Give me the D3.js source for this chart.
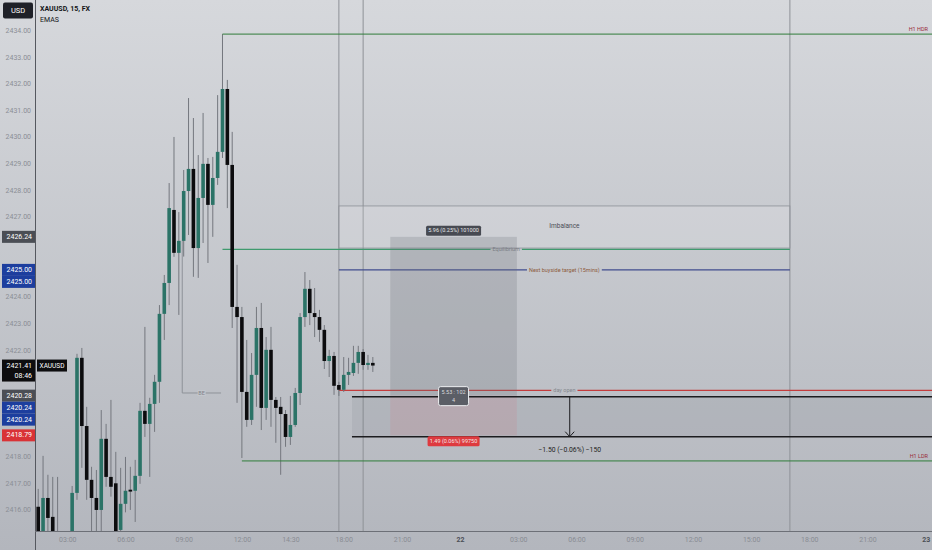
<!DOCTYPE html>
<html>
<head>
<meta charset="utf-8">
<script src="https://cdn.jsdelivr.net/npm/d3@7"></script>
<style>
html, body { margin: 0; padding: 0; background: #c9ccd2; }
svg { display: block; font-family: Roboto, "Noto Sans", sans-serif; }
</style>
</head>
<body>
<svg id="chart" width="932" height="550"></svg>
<script>
"use strict";

// 15 min XAUUSD candles, bar 0 = 03:00 on the 21st
var firstBar = -6;
var opens = [
  2416.11, 2415.00, 2416.44, 2415.73, 2414.95, 2414.50, 2414.30, 2414.60, 2416.63, 2421.70,
  2419.14, 2417.12, 2416.44, 2415.99, 2418.66, 2417.23, 2416.99, 2415.24, 2416.22, 2416.75,
  2416.71, 2417.27, 2419.71, 2419.22, 2419.97, 2420.80, 2423.35, 2424.51, 2427.25, 2425.64,
  2426.09, 2427.96, 2428.79, 2425.82, 2427.70, 2428.98, 2427.44, 2428.45, 2429.43, 2431.79,
  2428.94, 2423.61, 2423.23, 2420.42, 2419.37, 2421.06, 2422.82, 2419.82, 2422.00, 2420.12,
  2419.86, 2419.59, 2418.73, 2419.18, 2420.38, 2423.23, 2424.29, 2423.38, 2423.23, 2422.75,
  2421.58, 2421.77, 2420.68, 2420.50, 2421.06, 2421.13, 2421.51, 2421.92, 2421.43, 2421.51
];
var highs = [
  2416.78, 2418.02, 2417.31, 2417.23, 2417.23, 2414.90, 2415.00, 2416.89, 2421.85, 2422.07,
  2419.86, 2417.61, 2417.49, 2419.74, 2419.22, 2420.12, 2418.17, 2417.57, 2417.98, 2417.61,
  2417.87, 2420.01, 2422.86, 2420.20, 2421.06, 2423.68, 2424.81, 2428.26, 2429.99, 2427.17,
  2428.75, 2431.45, 2430.70, 2429.31, 2430.89, 2429.20, 2429.24, 2431.56, 2433.85, 2432.13,
  2430.18, 2425.19, 2423.61, 2422.37, 2421.88, 2423.61, 2423.76, 2422.48, 2422.86, 2420.23,
  2420.23, 2419.74, 2420.27, 2420.57, 2423.38, 2424.92, 2424.62, 2424.32, 2423.50, 2422.93,
  2422.00, 2421.92, 2420.80, 2421.73, 2421.70, 2422.15, 2422.15, 2422.03, 2421.81, 2421.73
];
var lows = [
  2414.70, 2414.80, 2414.90, 2414.60, 2414.20, 2414.00, 2413.90, 2414.50, 2416.37, 2417.57,
  2416.37, 2414.90, 2414.80, 2415.10, 2416.86, 2416.49, 2414.90, 2415.00, 2415.90, 2415.99,
  2415.54, 2416.97, 2418.73, 2417.23, 2418.92, 2420.01, 2422.37, 2423.68, 2425.49, 2423.31,
  2425.50, 2426.31, 2424.74, 2424.70, 2426.01, 2425.26, 2426.24, 2428.19, 2429.20, 2427.32,
  2422.82, 2420.01, 2417.94, 2419.11, 2419.18, 2419.86, 2418.99, 2419.37, 2419.11, 2418.51,
  2417.31, 2418.36, 2418.43, 2419.11, 2419.93, 2422.86, 2422.93, 2422.48, 2422.30, 2421.28,
  2420.98, 2420.31, 2420.27, 2420.42, 2420.68, 2421.02, 2421.10, 2421.25, 2421.25, 2421.17
];
var closes = [
  2415.00, 2416.44, 2415.69, 2414.95, 2414.50, 2414.30, 2414.60, 2416.63, 2421.70, 2419.14,
  2417.12, 2416.44, 2415.99, 2418.66, 2417.23, 2416.86, 2415.10, 2416.22, 2416.71, 2416.68,
  2417.27, 2419.71, 2419.22, 2419.97, 2420.80, 2423.35, 2424.51, 2427.32, 2425.64, 2426.09,
  2427.96, 2428.79, 2425.82, 2427.70, 2428.98, 2427.44, 2428.45, 2429.43, 2431.79, 2428.94,
  2423.61, 2423.23, 2420.42, 2419.37, 2421.06, 2422.82, 2419.82, 2422.00, 2420.12, 2419.82,
  2419.59, 2418.73, 2419.18, 2420.38, 2423.23, 2424.29, 2423.38, 2423.23, 2422.75, 2421.58,
  2421.77, 2420.65, 2420.50, 2421.06, 2421.17, 2421.51, 2421.92, 2421.43, 2421.51, 2421.41
];

var priceTicks = [2416, 2417, 2418, 2419, 2420, 2421, 2422, 2423, 2424, 2425,
                  2426, 2427, 2428, 2429, 2430, 2431, 2432, 2433, 2434];
var timeLabels = ["03:00", "06:00", "09:00", "12:00", "14:30", "18:00", "21:00", "22",
                  "03:00", "06:00", "09:00", "12:00", "15:00", "18:00", "21:00", "23"];
var timeBars = [0, 12, 24, 36, 46, 57, 69, 81, 93, 105, 117, 129, 141, 153, 165, 177];

// drawn levels
var levelNames = ["H1 HDR", "Equilibrium", "Next buyside target (15mins)", "day open", "H1 LDR"];
var levelPrices = [2433.85, 2425.77, 2425.00, 2420.48, 2417.83];
var levelFrom = [32, 32, 56, 56, 36];
var levelTo = [null, 149, 149, 149, null];
var levelExtend = [true, false, false, true, true];

var markerBars = [56, 61, 149];

var imbalance = { name: "Imbalance", top: 2427.40, bottom: 2425.82, from: 56, to: 149 };
var position = { target: 2426.24, entry: 2420.28, stop: 2418.79, from: 66.6, to: 92.7,
  topText: "5.96 (0.25%) 101000", midText: ["5.53 : 102", "4"], stopText: "1.49 (0.06%) 99750" };
var range = { from: 2420.24, to: 2418.74, start: 58.7, arrowBar: 103.6, text: "\u22121.50 (\u22120.06%) \u2212150" };
var breakeven = { top: 2426.10, price: 2420.38, from: 23.7, to: 31.7, text: "BE" };

var badgeText = ["2426.24", "2425.00", "2425.00", "2421.41", "2420.28", "2420.24", "2420.24", "2418.79"];
var badgePrice = [2426.24, 2425.00, 2425.00, 2421.41, 2420.28, 2420.24, 2420.24, 2418.79];
var badgeKind = ["position", "line", "line", "last", "position", "line", "line", "stop"];

var W = 932, H = 550, plotLeft = 35, plotBottom = 531;
var svg = d3.select("#chart");

var defs = svg.append("defs");
var grad = defs.append("linearGradient").attr("id", "bg")
  .attr("x1", 0).attr("y1", 0).attr("x2", 0).attr("y2", 1);
grad.append("stop").attr("offset", "0%").attr("stop-color", "#d6d8dc");
grad.append("stop").attr("offset", "100%").attr("stop-color", "#b3b6bd");
defs.append("clipPath").attr("id", "plot").append("rect")
  .attr("x", plotLeft).attr("y", 0).attr("width", W - plotLeft).attr("height", plotBottom);

svg.append("rect").attr("width", W).attr("height", H).attr("fill", "url(#bg)");

var x = d3.scaleLinear().domain([-6.66, 178.3]).range([plotLeft, W]);
var y = d3.scaleLinear().domain([2415.2, 2435.13]).range([plotBottom, 0]);

var plot = svg.append("g").attr("clip-path", "url(#plot)");

// vertical session markers
plot.selectAll("line.marker")
  .data(markerBars)
  .enter()
  .append("line")
  .attr("class", "marker")
  .attr("x1", function(b) { return x(b); })
  .attr("x2", function(b) { return x(b); })
  .attr("y1", 0).attr("y2", plotBottom)
  .attr("stroke", "#8e9197").attr("stroke-width", 1);

// imbalance box
plot.append("rect")
  .attr("x", x(imbalance.from)).attr("y", y(imbalance.top))
  .attr("width", x(imbalance.to) - x(imbalance.from))
  .attr("height", y(imbalance.bottom) - y(imbalance.top))
  .attr("fill", "rgba(255,255,255,0.13)")
  .attr("stroke", "#8d9097").attr("stroke-width", 0.8);
plot.append("text")
  .attr("x", x((imbalance.from + imbalance.to) / 2))
  .attr("y", y((imbalance.top + imbalance.bottom) / 2) - 1)
  .attr("text-anchor", "middle").attr("dominant-baseline", "middle")
  .attr("font-size", "6.5px").attr("fill", "#4a4d55")
  .text(imbalance.name);

// position tool zones
plot.append("rect")
  .attr("x", x(position.from)).attr("y", y(position.target))
  .attr("width", x(position.to) - x(position.from))
  .attr("height", y(position.entry) - y(position.target))
  .attr("fill", "rgba(110,113,121,0.24)");
plot.append("rect")
  .attr("x", x(position.from)).attr("y", y(position.entry))
  .attr("width", x(position.to) - x(position.from))
  .attr("height", y(position.stop) - y(position.entry))
  .attr("fill", "rgba(235,90,105,0.13)");

// price range band
plot.append("rect")
  .attr("x", x(range.start)).attr("y", y(range.from))
  .attr("width", W - x(range.start))
  .attr("height", y(range.to) - y(range.from))
  .attr("fill", "rgba(90,94,104,0.10)");

// breakeven bracket
plot.append("path")
  .attr("d", "M" + x(breakeven.from) + "," + y(breakeven.top) +
    "L" + x(breakeven.from) + "," + y(breakeven.price) +
    "L" + x(breakeven.to) + "," + y(breakeven.price))
  .attr("fill", "none").attr("stroke", "#8e9299").attr("stroke-width", 1);
var beMid = x((breakeven.from + breakeven.to) / 2);
plot.append("rect").attr("x", beMid - 4).attr("y", y(breakeven.price) - 3)
  .attr("width", 8).attr("height", 6).attr("fill", "#c3c6cc");
plot.append("text")
  .attr("x", beMid).attr("y", y(breakeven.price) + 0.5)
  .attr("text-anchor", "middle").attr("dominant-baseline", "middle")
  .attr("font-size", "5.5px").attr("fill", "#80838a")
  .text(breakeven.text);

// candles
var candles = opens.map(function(o, i) {
  return { bar: firstBar + i, o: o, h: highs[i], l: lows[i], c: closes[i] };
});
var bodyW = 3.6;
var cg = plot.append("g");
cg.selectAll("line.wick")
  .data(candles)
  .enter()
  .append("line")
  .attr("class", "wick")
  .attr("x1", function(d) { return x(d.bar); })
  .attr("x2", function(d) { return x(d.bar); })
  .attr("y1", function(d) { return y(d.h); })
  .attr("y2", function(d) { return y(d.l); })
  .attr("stroke", "#74777e").attr("stroke-width", 1);
cg.selectAll("rect.body")
  .data(candles)
  .enter()
  .append("rect")
  .attr("class", "body")
  .attr("x", function(d) { return x(d.bar) - bodyW / 2; })
  .attr("width", bodyW)
  .attr("y", function(d) { return y(Math.max(d.o, d.c)); })
  .attr("height", function(d) { return Math.max(1, Math.abs(y(d.o) - y(d.c))); })
  .attr("fill", function(d) { return d.c >= d.o ? "#2b7367" : "#0c0c0e"; });

// levels
function levelStyle(name) {
  if (name == "H1 HDR" || name == "H1 LDR") {
    return { stroke: "#2f7d3a", text: "#9a2b3b", place: "right" };
  } else if (name == "Equilibrium") {
    return { stroke: "#3f9a6e", text: "#7b7e85", place: "middle" };
  } else if (name == "day open") {
    return { stroke: "#c43c3c", text: "#85888f", place: "middle" };
  } else {
    return { stroke: "#414c8e", text: "#8d5b3c", place: "middle" };
  }
}

levelNames.forEach(function(name, i) {
  var st = levelStyle(name);
  var py = y(levelPrices[i]);
  var x1 = x(levelFrom[i]);
  var x2 = levelExtend[i] ? W : x(levelTo[i]);
  if (st.place == "right") {
    plot.append("line").attr("x1", x1).attr("x2", x2).attr("y1", py).attr("y2", py)
      .attr("stroke", st.stroke).attr("stroke-width", 1);
    plot.append("text").attr("x", W - 4).attr("y", py - 3)
      .attr("text-anchor", "end").attr("font-size", "5.5px").attr("fill", st.text)
      .text(name);
  } else {
    var mid = x((levelFrom[i] + levelTo[i]) / 2);
    var t = plot.append("text").attr("x", mid).attr("y", py + 0.3)
      .attr("text-anchor", "middle").attr("dominant-baseline", "middle")
      .attr("font-size", "5.5px").attr("fill", st.text)
      .text(name);
    var half = t.node().getComputedTextLength() / 2 + 2;
    plot.insert("line", "text").attr("x1", x1).attr("x2", mid - half).attr("y1", py).attr("y2", py)
      .attr("stroke", st.stroke).attr("stroke-width", 1.2);
    plot.insert("line", "text").attr("x1", mid + half).attr("x2", x2).attr("y1", py).attr("y2", py)
      .attr("stroke", st.stroke).attr("stroke-width", 1.2);
  }
});

// price range lines and arrow
[range.from, range.to].forEach(function(p) {
  plot.append("line").attr("x1", x(range.start)).attr("x2", W)
    .attr("y1", y(p)).attr("y2", y(p))
    .attr("stroke", "#1c1c1f").attr("stroke-width", 1.5);
});
var ax = x(range.arrowBar);
plot.append("line").attr("x1", ax).attr("x2", ax)
  .attr("y1", y(range.from)).attr("y2", y(range.to))
  .attr("stroke", "#1c1c1f").attr("stroke-width", 1);
plot.append("path")
  .attr("d", "M" + (ax - 4.5) + "," + (y(range.to) - 5) + "L" + ax + "," + y(range.to) +
    "L" + (ax + 4.5) + "," + (y(range.to) - 5))
  .attr("fill", "none").attr("stroke", "#1c1c1f").attr("stroke-width", 1);
plot.append("text").attr("x", ax).attr("y", y(range.to) + 15)
  .attr("text-anchor", "middle").attr("font-size", "6.8px").attr("fill", "#1e1e22")
  .text(range.text);

// position tool labels
var pMid = x((position.from + position.to) / 2);
var topBox = plot.append("g");
topBox.append("rect").attr("x", pMid - 27.5).attr("y", y(position.target) - 11)
  .attr("width", 55).attr("height", 10).attr("rx", 1.5).attr("fill", "#474a52");
topBox.append("text").attr("x", pMid).attr("y", y(position.target) - 6)
  .attr("text-anchor", "middle").attr("dominant-baseline", "middle")
  .attr("font-size", "5.5px").attr("fill", "#e6e7ea").text(position.topText);

var midBox = plot.append("g");
midBox.append("rect").attr("x", pMid - 15).attr("y", y(position.entry) - 9)
  .attr("width", 30).attr("height", 19).attr("rx", 2)
  .attr("fill", "#5b5e66").attr("stroke", "#eceef0").attr("stroke-width", 1);
position.midText.forEach(function(s, i) {
  midBox.append("text").attr("x", pMid).attr("y", y(position.entry) - 3.5 + i * 8)
    .attr("text-anchor", "middle").attr("dominant-baseline", "middle")
    .attr("font-size", "5.5px").attr("fill", "#d8d9dc").text(s);
});

var stopBox = plot.append("g");
stopBox.append("rect").attr("x", pMid - 26).attr("y", y(position.stop) + 1)
  .attr("width", 52).attr("height", 10).attr("rx", 1.5).attr("fill", "#de3a3f");
stopBox.append("text").attr("x", pMid).attr("y", y(position.stop) + 6)
  .attr("text-anchor", "middle").attr("dominant-baseline", "middle")
  .attr("font-size", "5.5px").attr("fill", "#f4e6e6").text(position.stopText);

// axes
svg.append("line").attr("x1", plotLeft + 0.5).attr("x2", plotLeft + 0.5)
  .attr("y1", 0).attr("y2", H).attr("stroke", "#55585f").attr("stroke-width", 1);
svg.append("line").attr("x1", plotLeft).attr("x2", W)
  .attr("y1", plotBottom + 0.5).attr("y2", plotBottom + 0.5)
  .attr("stroke", "#6d7077").attr("stroke-width", 1);

// price badges on the axis, pushed down when they overlap
function badgeColor(kind) {
  if (kind == "position") return "#4b4e55";
  else if (kind == "line") return "#1d3e9e";
  else if (kind == "last") return "#0d0d0f";
  else return "#d93236";
}
var badges = badgeText.map(function(t, i) {
  return { text: t, kind: badgeKind[i], cy: y(badgePrice[i]), h: badgeKind[i] == "last" ? 22 : 12 };
});
var prevBottom = -Infinity;
badges.forEach(function(b) {
  b.top = Math.max(b.cy - 6, prevBottom);
  prevBottom = b.top + b.h;
});

// tick labels hidden behind a badge are left out
var visibleTicks = priceTicks.filter(function(p) {
  var ty = y(p);
  return !badges.some(function(b) { return ty > b.top - 4 && ty < b.top + b.h + 4; });
});

var yAxis = svg.append("g").attr("transform", "translate(31,0)")
  .call(d3.axisLeft(y).tickValues(visibleTicks).tickFormat(d3.format(".2f")).tickSize(0).tickPadding(0));
yAxis.select(".domain").remove();
yAxis.selectAll("text").attr("fill", "#8b8e95").attr("font-size", "7px")
  .attr("font-family", "Roboto, sans-serif");

var xAxis = svg.append("g").attr("transform", "translate(0," + plotBottom + ")")
  .call(d3.axisBottom(x).tickValues(timeBars)
    .tickFormat(function(d, i) { return timeLabels[i]; }).tickSize(0).tickPadding(6));
xAxis.select(".domain").remove();
xAxis.selectAll("text")
  .attr("font-size", "7px").attr("font-family", "Roboto, sans-serif")
  .attr("fill", function(d, i) { return timeLabels[i].length < 3 ? "#4c4f56" : "#898c93"; })
  .attr("font-weight", function(d, i) { return timeLabels[i].length < 3 ? "bold" : "normal"; });

var bg = svg.append("g");
badges.forEach(function(b) {
  bg.append("rect").attr("x", 2).attr("y", b.top).attr("width", 33).attr("height", b.h)
    .attr("fill", badgeColor(b.kind));
  bg.append("text").attr("x", 32).attr("y", b.top + 6.3)
    .attr("text-anchor", "end").attr("dominant-baseline", "middle")
    .attr("font-size", "7px").attr("fill", "#ffffff").text(b.text);
  if (b.kind == "last") {
    bg.append("text").attr("x", 32).attr("y", b.top + 16.5)
      .attr("text-anchor", "end").attr("dominant-baseline", "middle")
      .attr("font-size", "7px").attr("fill", "#ffffff").text("08:46");
    bg.append("rect").attr("x", 37).attr("y", b.top).attr("width", 30).attr("height", 12)
      .attr("fill", "#0d0d0f");
    bg.append("text").attr("x", 52).attr("y", b.top + 6.3)
      .attr("text-anchor", "middle").attr("dominant-baseline", "middle")
      .attr("font-size", "6.5px").attr("fill", "#ffffff").text("XAUUSD");
  }
});

// header
svg.append("rect").attr("x", 3).attr("y", 2.5).attr("width", 30).attr("height", 16)
  .attr("rx", 2).attr("fill", "#1f2128");
svg.append("text").attr("x", 18).attr("y", 11)
  .attr("text-anchor", "middle").attr("dominant-baseline", "middle")
  .attr("font-size", "7.5px").attr("fill", "#ffffff").text("USD");
svg.append("text").attr("x", 40).attr("y", 11)
  .attr("font-size", "7px").attr("font-weight", "bold").attr("fill", "#131417")
  .text("XAUUSD, 15, FX");
svg.append("text").attr("x", 40).attr("y", 22)
  .attr("font-size", "7px").attr("fill", "#131417")
  .text("EMAS");
</script>
</body>
</html>
